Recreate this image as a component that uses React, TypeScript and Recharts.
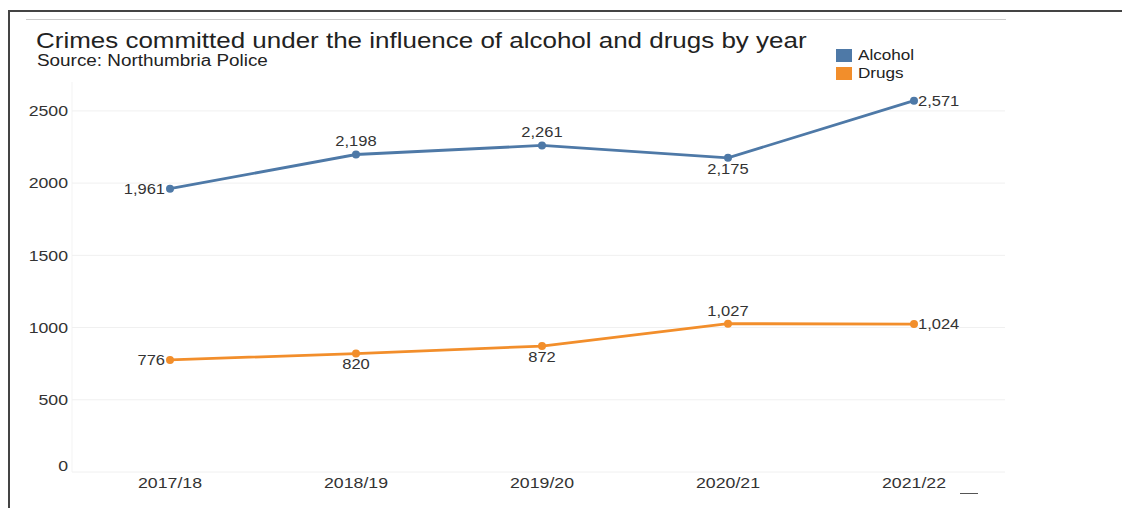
import { LineChart, Line, XAxis, YAxis, CartesianGrid, LabelList, ReferenceLine } from "recharts";

const years = ["2017/18", "2018/19", "2019/20", "2020/21", "2021/22"];
const alcohol = [1961, 2198, 2261, 2175, 2571];
const drugs = [776, 820, 872, 1027, 1024];
const yTicks = [0, 500, 1000, 1500, 2000, 2500];

const ALCOHOL = "#4e79a7";
const DRUGS = "#f28e2b";
const FONT = "'Liberation Sans', Arial, sans-serif";
const STRETCH = 1.18; // the source text is drawn a bit wide

// where each value label sits relative to its point
const alcoholPlace = ["left", "above", "above", "below", "right"];
const drugsPlace = ["left", "below", "below", "above", "right"];

const data = years.map((year, i) => ({ year, alcohol: alcohol[i], drugs: drugs[i] }));

const fmt = (v: number) => v.toLocaleString("en-US");

function WideText({ x, y, anchor, size, children }: any) {
  return (
    <text
      transform={`translate(${x},${y}) scale(${STRETCH},1)`}
      textAnchor={anchor}
      dy="0.35em"
      fontSize={size}
      fill="#333"
      fontFamily={FONT}
    >
      {children}
    </text>
  );
}

function makeLabel(places: string[]) {
  return (props: any) => {
    const { x, y, value, index } = props;
    const p = places[index];
    let tx = x;
    let ty = y;
    let anchor = "middle";
    if (p === "left") {
      tx = x - 5;
      anchor = "end";
    } else if (p === "right") {
      tx = x + 4;
      anchor = "start";
    } else if (p === "above") {
      ty = y - 13;
    } else {
      ty = y + 11;
    }
    return (
      <WideText x={tx} y={ty} anchor={anchor} size={14}>
        {fmt(value)}
      </WideText>
    );
  };
}

const YTick = (props: any) => (
  <WideText x={props.x} y={props.y - (props.payload.value === 0 ? 6 : 0)} anchor="end" size={15}>
    {props.payload.value}
  </WideText>
);

const XTick = (props: any) => (
  <WideText x={props.x} y={props.y + 11} anchor="middle" size={15}>
    {props.payload.value}
  </WideText>
);

const wide = { transform: `scaleX(${STRETCH})`, transformOrigin: "left top" };

export default function App() {
  return (
    <div style={{ position: "absolute", left: 0, top: 0, width: 1122, height: 508, background: "#fff", fontFamily: FONT }}>
      <div style={{ position: "absolute", left: 8, top: 10, width: 1114, height: 2, background: "#444" }} />
      <div style={{ position: "absolute", left: 8, top: 10, width: 2, height: 498, background: "#444" }} />
      <div style={{ position: "absolute", left: 26, top: 19, width: 980, height: 1, background: "#ccc" }} />
      <div style={{ position: "absolute", left: 960, top: 493, width: 18, height: 1, background: "#555" }} />

      <div style={{ position: "absolute", left: 36, top: 30, fontSize: 22, lineHeight: 1, color: "#222", whiteSpace: "nowrap", ...wide }}>
        Crimes committed under the influence of alcohol and drugs by year
      </div>
      <div style={{ position: "absolute", left: 37, top: 53, fontSize: 16, lineHeight: 1, color: "#222", whiteSpace: "nowrap", ...wide }}>
        Source: Northumbria Police
      </div>

      {[
        { name: "Alcohol", color: ALCOHOL, top: 49 },
        { name: "Drugs", color: DRUGS, top: 67 },
      ].map((s) => (
        <div key={s.name}>
          <div style={{ position: "absolute", left: 836, top: s.top, width: 16, height: 13, background: s.color }} />
          <div style={{ position: "absolute", left: 858, top: s.top - 1, fontSize: 14.5, lineHeight: 1, color: "#222", ...wide }}>
            {s.name}
          </div>
        </div>
      ))}

      <div style={{ position: "absolute", left: 0, top: 0 }}>
        <LineChart width={1122} height={508} data={data} margin={{ top: 82, right: 117, left: 0, bottom: 10 }}>
          <CartesianGrid horizontal={false} stroke="#f3f3f3" verticalPoints={[72]} />
          {yTicks.map((t) => (
            <ReferenceLine key={t} y={t} stroke="#f0f0f0" strokeWidth={1} />
          ))}
          <XAxis
            dataKey="year"
            height={26}
            axisLine={false}
            tickLine={false}
            tickSize={0}
            tickMargin={0}
            padding={{ left: 98, right: 91 }}
            tick={<XTick />}
          />
          <YAxis
            width={72}
            domain={[0, 2700]}
            ticks={yTicks}
            axisLine={false}
            tickLine={false}
            tickSize={4}
            tickMargin={0}
            tick={<YTick />}
          />
          <Line
            dataKey="alcohol"
            stroke={ALCOHOL}
            strokeWidth={2.8}
            dot={{ r: 2.6, fill: ALCOHOL, stroke: ALCOHOL }}
            isAnimationActive={false}
          >
            <LabelList dataKey="alcohol" content={makeLabel(alcoholPlace)} />
          </Line>
          <Line
            dataKey="drugs"
            stroke={DRUGS}
            strokeWidth={2.8}
            dot={{ r: 2.6, fill: DRUGS, stroke: DRUGS }}
            isAnimationActive={false}
          >
            <LabelList dataKey="drugs" content={makeLabel(drugsPlace)} />
          </Line>
        </LineChart>
      </div>
    </div>
  );
}
